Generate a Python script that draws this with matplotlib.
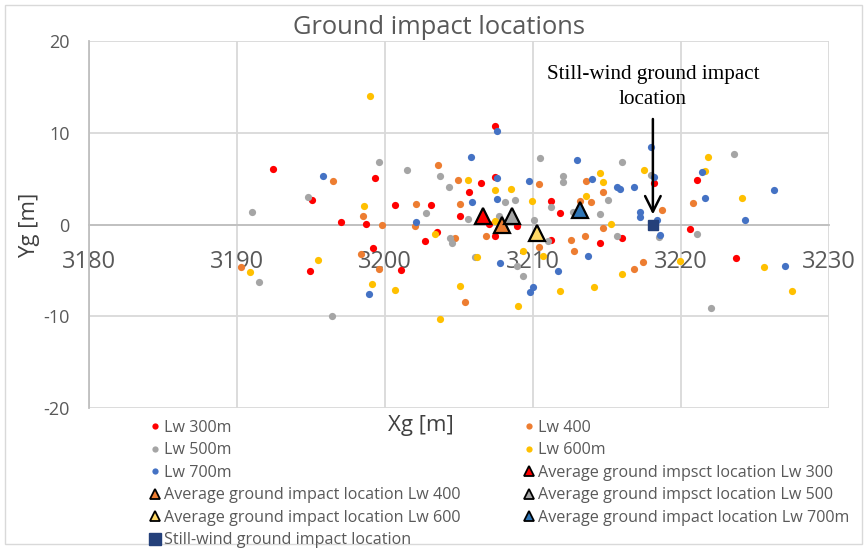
import matplotlib
matplotlib.use("Agg")
import matplotlib.pyplot as plt
from matplotlib.lines import Line2D
from matplotlib.patches import Rectangle

plt.rcParams['font.family'] = ['Open Sans', 'DejaVu Sans']
plt.rcParams['axes.unicode_minus'] = False

# ---- data ----
lw300_x = [3192.4, 3195.1, 3197.0, 3198.7, 3199.3, 3199.2, 3194.9, 3200.7, 3203.1, 3201.1, 3202.7, 3203.5,
           3205.1, 3205.7, 3206.5, 3207.4, 3207.4, 3207.0, 3207.4, 3208.9, 3211.2, 3211.8, 3211.2, 3214.5,
           3216.0, 3218.2, 3221.1, 3220.6, 3223.7]
lw300_y = [6.0, 2.7, 0.3, 0.1, 5.1, -2.6, -5.1, 2.1, 2.1, -5.0, -1.8, -0.8,
           0.9, 3.5, 4.5, 10.7, 5.2, 0.1, -1.2, -0.2, 2.6, 1.3, -1.7, -2.0,
           -1.5, 4.5, 4.9, -0.5, -3.6]

lw400_x = [3190.3, 3196.5, 3198.5, 3199.8, 3198.4, 3199.6, 3202.1, 3202.0, 3203.6, 3204.9, 3205.1, 3204.7,
           3205.4, 3206.8, 3210.4, 3210.4, 3213.6, 3213.9, 3214.7, 3214.7, 3212.6, 3212.8, 3213.5, 3216.8,
           3217.4, 3213.2, 3218.7, 3220.8]
lw400_y = [-4.6, 4.7, 0.9, -0.1, -3.2, -4.8, 2.2, -0.2, 6.5, 4.9, 2.2, -1.5,
           -8.5, -1.3, -2.4, 4.4, 4.7, 2.4, 3.5, -0.4, -1.7, -2.9, -1.2, -4.8,
           -4.1, 2.6, 1.6, 2.3]

lw500_x = [3191.0, 3191.5, 3194.8, 3199.6, 3196.4, 3201.5, 3203.7, 3202.8, 3204.3, 3204.4, 3204.5, 3205.6,
           3206.1, 3207.7, 3208.1, 3208.8, 3210.5, 3210.1, 3211.0, 3212.0, 3212.0, 3211.2, 3212.7, 3214.5,
           3215.1, 3216.0, 3215.7, 3208.9, 3209.3, 3218.0, 3218.5, 3221.1, 3223.6, 3222.0]
lw500_y = [1.4, -6.3, 3.0, 6.8, -10.0, 5.9, 5.3, 1.3, 4.1, -1.5, -2.0, 0.6,
           -3.5, 0.9, 2.5, 2.7, 7.3, 0.5, -1.8, 5.3, 4.6, 1.9, 1.4, 1.1,
           2.7, 6.8, -1.2, -4.5, -5.6, 5.4, -1.4, -1.0, 7.7, -9.1]

lw600_x = [3190.9, 3195.5, 3198.6, 3199.1, 3200.7, 3203.4, 3203.7, 3199.0, 3205.6, 3207.4, 3206.2, 3205.1,
           3207.4, 3208.5, 3209.9, 3209.0, 3210.7, 3209.3, 3211.8, 3214.1, 3214.5, 3214.7, 3213.6, 3215.3,
           3216.0, 3217.5, 3221.8, 3221.6, 3224.1, 3219.9, 3225.6, 3227.5]
lw600_y = [-5.2, -3.9, 2.0, -6.5, -7.1, -1.0, -10.3, 14.0, 4.9, 3.8, -3.5, -6.7,
           0.4, 3.9, 2.6, -8.9, -3.4, -2.9, -7.2, -6.8, 5.6, 4.6, 3.1, 0.1,
           -5.4, 5.9, 7.4, 5.8, 2.9, -4.0, -4.6, -7.2]

lw700_x = [3195.8, 3202.1, 3198.9, 3205.8, 3207.6, 3207.6, 3207.6, 3205.9, 3207.8, 3209.7, 3209.8, 3210.0,
           3211.7, 3213.0, 3214.0, 3213.7, 3215.7, 3215.9, 3216.8, 3217.2, 3217.2, 3218.0, 3218.2, 3218.4,
           3218.6, 3221.4, 3221.6, 3224.3, 3226.3, 3227.0]
lw700_y = [5.3, 0.3, -7.6, 7.4, 10.2, 5.1, 2.8, 2.5, -4.2, 4.7, -7.4, -6.8,
           -5.1, 7.0, 5.0, -3.4, 4.1, 3.9, 4.1, 1.4, 0.8, 8.4, 5.2, 0.5,
           -1.1, 5.7, 2.9, 0.5, 3.8, -4.5]

avg_labels = ["Average ground impsct location Lw 300", "Average ground impact location Lw 400",
              "Average ground impsct location Lw 500", "Average ground impact location Lw 600",
              "Average ground impact location Lw 700m"]
avg_x = [3206.6, 3207.9, 3208.6, 3210.3, 3213.2]
avg_y = [0.9, -0.1, 0.9, -0.9, 1.6]

still_x = [3218.1]
still_y = [0.0]

series_labels = ["Lw 300m", "Lw 400", "Lw 500m", "Lw 600m", "Lw 700m"]
x_ticks = [3180, 3190, 3200, 3210, 3220, 3230]
y_ticks = [-20, -10, 0, 10, 20]

# ---- styles ----
dot_colors = ['#FF0000', '#ED7D31', '#A5A5A5', '#FFC000', '#4472C4']
tri_colors = ['#FF0000', '#ED7D31', '#A5A5A5', '#FFD966', '#2E75B6']
sq_color = '#24407A'
grid_c = '#D9D9D9'
txt_c = '#595959'

W, H = 867, 549
fig = plt.figure(figsize=(W / 100, H / 100), dpi=100)
ax = fig.add_axes([89 / W, 1 - 408 / H, 740 / W, 367 / H])

ax.set_xlim(3180, 3230)
ax.set_ylim(-20, 20)
ax.set_xticks(x_ticks)
ax.set_yticks(y_ticks)
ax.grid(True, color=grid_c, lw=1.3, zorder=0)
ax.set_axisbelow(True)
for s in ['top', 'right']:
    ax.spines[s].set_visible(False)
ax.spines['bottom'].set_position(('data', 0))
ax.spines['bottom'].set_color('#BFBFBF')
ax.spines['bottom'].set_linewidth(1.3)
ax.spines['left'].set_color('#BFBFBF')
ax.spines['left'].set_linewidth(1.3)
ax.tick_params(axis='both', length=0)
ax.tick_params(axis='x', labelsize=17, labelcolor=txt_c, pad=18.5)
ax.tick_params(axis='y', labelsize=13, labelcolor=txt_c, pad=14)

xs = [lw300_x, lw400_x, lw500_x, lw600_x, lw700_x]
ys = [lw300_y, lw400_y, lw500_y, lw600_y, lw700_y]
for i in range(5):
    ax.plot(xs[i], ys[i], 'o', ms=5.2, color=dot_colors[i], mec='none', zorder=3)
for i in range(5):
    ax.plot(avg_x[i], avg_y[i], '^', ms=12, color=tri_colors[i], mec='black', mew=1.6, zorder=4)
ax.plot(still_x, still_y, 's', ms=7.5, color=sq_color, mec=sq_color, zorder=5)

ax.annotate('', xy=(still_x[0], 1.1), xytext=(still_x[0], 11.5),
            arrowprops=dict(arrowstyle='->', lw=1.8, color='black', mutation_scale=28,
                            shrinkA=0, shrinkB=0), zorder=6)
ax.text(still_x[0], 15.0, "Still-wind ground impact\nlocation", ha='center', va='center',
        fontsize=15.2, family=['Liberation Serif', 'DejaVu Serif'], color='black',
        linespacing=1.42, zorder=6)

fig.text(439 / W, 1 - 27 / H, "Ground impact locations", ha='center', va='center',
         fontsize=18.4, color=txt_c)
fig.text(30 / W, 1 - 225 / H, "Yg [m]", ha='center', va='center', rotation=90,
         fontsize=16, color='#404040')
fig.text(421 / W, 1 - 425 / H, "Xg [m]", ha='center', va='center',
         fontsize=16, color='#404040')

# legend
dot_h = [Line2D([], [], ls='none', marker='o', ms=4.5, color=dot_colors[i], mec='none',
                label=series_labels[i]) for i in range(5)]
tri_h = [Line2D([], [], ls='none', marker='^', ms=7.5, color=tri_colors[i], mec='black', mew=1.3,
                label=avg_labels[i]) for i in range(5)]
sq_h = [Line2D([], [], ls='none', marker='s', ms=8, color=sq_color, label="Still-wind ground impact location")]
allh = dot_h + tri_h + sq_h
order = [0, 2, 4, 6, 8, 10, 1, 3, 5, 7, 9]
leg = fig.legend(handles=[allh[k] for k in order], ncol=2, loc='upper left',
                 bbox_to_anchor=(150 / W, 1 - 420 / H), frameon=False, fontsize=11.6,
                 handlelength=0.6, handletextpad=0.3, columnspacing=3.9,
                 labelspacing=0.4, borderpad=0, borderaxespad=0, labelcolor=txt_c)

fig.patches.append(Rectangle((5 / W, 5 / H), (W - 10) / W, (H - 10) / H, transform=fig.transFigure,
                             fill=False, edgecolor=grid_c, lw=1.0))

fig.savefig('out.png', dpi=100)
